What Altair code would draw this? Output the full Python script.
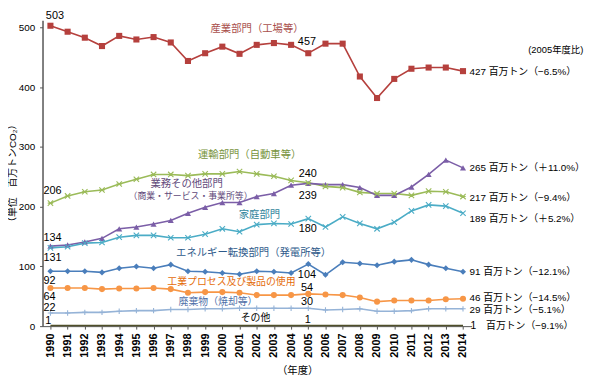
import altair as alt
import pandas as pd

years = list(range(1990, 2015))

series_names = ["産業", "運輸", "業務", "家庭", "エネ", "工業", "廃棄物", "その他"]
industry = [503, 493, 483, 469, 486, 480, 484, 475, 444, 457, 468, 456, 471, 474, 471, 457, 473, 473, 418, 382, 414, 431, 433, 433, 427]
transport = [206, 218, 225, 228, 238, 246, 254, 254, 252, 255, 255, 259, 255, 251, 244, 240, 234, 232, 224, 222, 222, 219, 226, 225, 217]
commercial = [134, 136, 141, 147, 163, 166, 171, 177, 189, 199, 207, 207, 217, 222, 236, 239, 237, 237, 232, 219, 219, 233, 254, 278, 265]
household = [131, 133, 139, 140, 149, 152, 152, 148, 148, 154, 163, 158, 170, 172, 171, 180, 166, 183, 172, 163, 174, 193, 203, 201, 189]
energy = [92, 92, 92, 90, 97, 100, 97, 103, 92, 91, 89, 87, 92, 91, 89, 104, 86, 107, 105, 102, 108, 111, 103, 97, 91]
process = [64, 64, 64, 62, 63, 63, 64, 62, 56, 57, 57, 56, 52, 52, 52, 54, 53, 52, 48, 41, 43, 43, 43, 45, 46]
waste = [22, 22, 23, 23, 25, 26, 26, 28, 28, 29, 29, 30, 30, 30, 30, 30, 27, 28, 29, 25, 25, 26, 29, 29, 29]
other = [1, 1, 1, 1, 1, 1, 1, 1, 1, 1, 1, 1, 1, 1, 1, 1, 1, 1, 1, 1, 1, 1, 1, 1, 1]
series_values = [industry, transport, commercial, household, energy, process, waste, other]

series_colors = ["#b5403d", "#9bbb59", "#7b5ea7", "#4bacc6", "#4a7ebb", "#f79646", "#95b3d7", "#4f4f2a"]
asterisk = "M-1,-1L1,1M-1,1L1,-1M-1,0L1,0"
xmark = "M-1,-1L1,1M-1,1L1,-1"
plus = "M-1,0L1,0M0,-1L0,1"
series_shapes = ["square", asterisk, "triangle-up", xmark, "diamond", "circle", plus, "circle"]
filled_series = ["産業", "業務", "エネ", "工業"]
stroke_series = ["運輸", "家庭", "廃棄物"]

rows = []
for name, vals in zip(series_names, series_values):
    for yr, v in zip(years, vals):
        rows.append({"series": name, "year": yr, "value": v})
df = pd.DataFrame(rows)

# annotations: text, year-position, value-position, color, font size, align
ann_text = ["503", "457", "産業部門（工場等）", "(2005年度比)", "206", "運輸部門（自動車等）",
            "業務その他部門", "（商業・サービス・事業所等）", "240", "239", "家庭部門", "180",
            "134", "131", "エネルギー転換部門（発電所等）", "92", "104", "工業プロセス及び製品の使用",
            "54", "64", "廃棄物（焼却等）", "30", "22", "その他", "1", "1",
            "427 百万トン（−6.5%）", "265 百万トン（＋11.0%）", "217 百万トン（−9.4%）",
            "189 百万トン（＋5.2%）", "91 百万トン（−12.1%）", "46 百万トン（−14.5%）",
            "29 百万トン（−5.1%）", "1", "百万トン（−9.1%）", "（年度）"]
ann_year = [1990.26, 2004.92, 2002.02, 2021.0, 1989.6, 2001.59,
            1997.92, 1998.15, 2004.97, 2004.97, 2002.16, 2004.97,
            1989.6, 1989.6, 2001.82, 1989.6, 2004.92, 2000.53,
            2004.92, 1989.6, 1999.75, 2004.92, 1989.6, 2001.93, 2004.97, 1989.88,
            2014.38, 2014.38, 2014.38,
            2014.38, 2014.38, 2014.38,
            2014.38, 2014.61, 2015.34, 2004.38]
ann_value = [520, 476, 498, 463, 226, 287,
             238, 218, 254, 218, 186, 162,
             148, 114, 122, 76, 85, 74,
             63, 49, 40, 40, 30, 13, 10, 9,
             426, 265, 215,
             179, 90, 47,
             27, 0, 1, -76]
ann_color = ["#000000", "#000000", "#a94f4c", "#000000", "#000000", "#77933c",
             "#5f497a", "#5f497a", "#000000", "#000000", "#31859c", "#000000",
             "#000000", "#000000", "#2e5a8a", "#000000", "#000000", "#e46c0a",
             "#000000", "#000000", "#4f6fa8", "#000000", "#000000", "#000000", "#000000", "#000000",
             "#000000", "#000000", "#000000",
             "#000000", "#000000", "#000000",
             "#000000", "#000000", "#000000", "#000000"]
ann_size = [11, 11, 10.5, 9.5, 11, 10.5,
            10.5, 9, 11, 11, 10.5, 11,
            11, 11, 10.5, 11, 11, 10,
            11, 11, 10, 11, 11, 10, 11, 11,
            10, 10, 10,
            10, 10, 10,
            10, 10.5, 10, 10.5]
ann_align = ["center", "center", "center", "right", "left", "center",
             "center", "center", "center", "center", "center", "center",
             "left", "left", "center", "left", "center", "center",
             "center", "left", "center", "center", "left", "center", "center", "center",
             "left", "left", "left",
             "left", "left", "left",
             "left", "center", "left", "center"]

ann = pd.DataFrame({"text": ann_text, "year": ann_year, "value": ann_value,
                    "color": ann_color, "fs": ann_size, "align": ann_align})

# y-axis title, drawn as rotated text
ytitle = pd.DataFrame({"text": ["（単位　百万トンCO₂）"], "year": [1987.85], "value": [256]})

FONT = "Liberation Sans, Noto Sans CJK JP"

x_scale = alt.Scale(domain=[1989.54, 2014.5], nice=False, zero=False)
y_scale = alt.Scale(domain=[0, 512], nice=False)
color_scale = alt.Scale(domain=series_names, range=series_colors)
shape_scale = alt.Scale(domain=series_names, range=series_shapes)

x_axis = alt.Axis(values=years, format="d", labelAngle=270, labelAlign="right",
                  labelBaseline="middle", labelFontWeight="bold", labelFontSize=11,
                  labelPadding=4, tickSize=3, grid=False, title=None,
                  domainColor="#555555", tickColor="#555555", labelColor="#000000",
                  labelFont=FONT, labelOverlap=False, labelBound=False)
y_axis = alt.Axis(values=[0, 100, 200, 300, 400, 500], labelFontSize=10, tickSize=3,
                  labelPadding=5, grid=False, title=None, labelFont=FONT,
                  domainColor="#555555", domainWidth=1.5, tickColor="#555555",
                  labelColor="#000000")

x_enc = alt.X("year:Q", scale=x_scale, axis=x_axis)
y_enc = alt.Y("value:Q", scale=y_scale, axis=y_axis)

base = alt.Chart(df).encode(
    x=x_enc, y=y_enc,
    color=alt.Color("series:N", scale=color_scale, legend=None),
)

lines = base.mark_line(strokeWidth=1.6)

filled_pts = base.transform_filter(
    alt.FieldOneOfPredicate(field="series", oneOf=filled_series)
).mark_point(filled=True, opacity=1, size=38).encode(
    shape=alt.Shape("series:N", scale=shape_scale, legend=None)
)

stroke_pts = base.transform_filter(
    alt.FieldOneOfPredicate(field="series", oneOf=stroke_series)
).mark_point(filled=False, opacity=1, size=30, strokeWidth=1.1).encode(
    shape=alt.Shape("series:N", scale=shape_scale, legend=None)
)


def text_layer(align):
    return alt.Chart(ann).transform_filter(
        alt.datum.align == align
    ).mark_text(align=align, baseline="middle", font=FONT).encode(
        x=x_enc,
        y=y_enc,
        text="text:N",
        color=alt.Color("color:N", scale=None),
        size=alt.Size("fs:Q", scale=None),
    )


ytitle_layer = alt.Chart(ytitle).mark_text(
    align="center", baseline="middle", angle=270, fontSize=10, font=FONT, color="#000000"
).encode(x=x_enc, y=y_enc, text="text:N")

chart = alt.layer(
    lines, filled_pts, stroke_pts,
    text_layer("left"), text_layer("center"), text_layer("right"), ytitle_layer,
).properties(
    width=435, height=310,
    autosize=alt.AutoSizeParams(type="none"),
    padding={"left": 35, "top": 10, "right": 117, "bottom": 48},
    background="white",
).configure_view(stroke=None)

chart.save("out.html", embed_options={"renderer": "svg", "actions": False})
